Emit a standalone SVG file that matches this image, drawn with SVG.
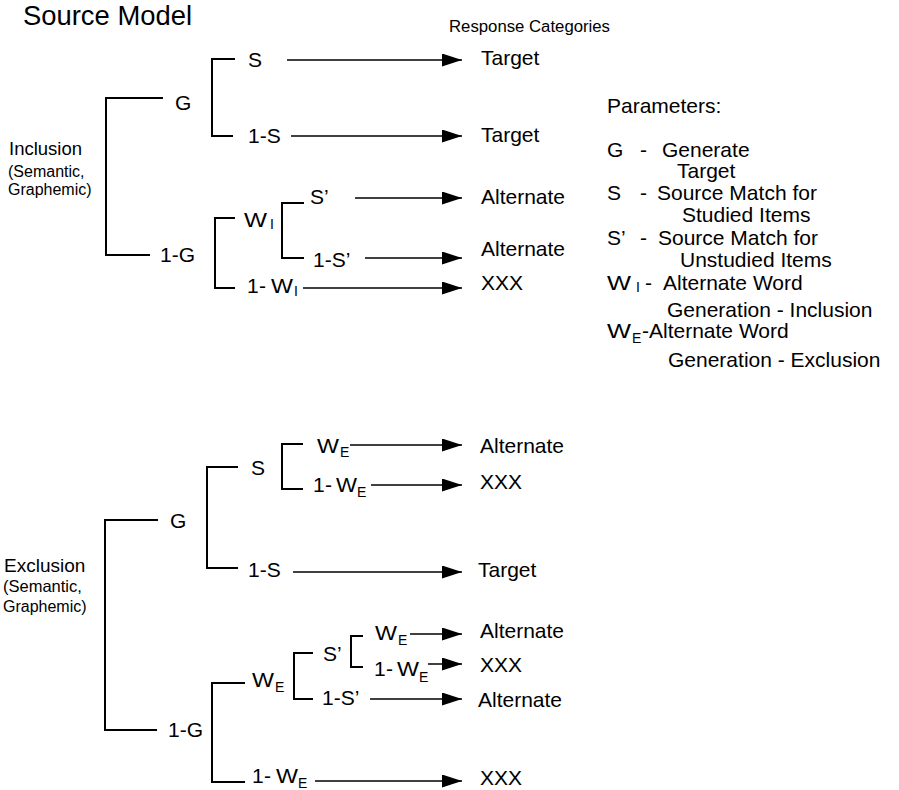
<svg xmlns="http://www.w3.org/2000/svg" width="899" height="790" viewBox="0 0 899 790">
<defs>
<style>
text{font-family:"Liberation Sans",Arial,Helvetica,sans-serif;fill:#000}
.t{font-size:21px}
.sub{font-size:14px}
.sm{font-size:16px}
.br{fill:none;stroke:#000;stroke-width:2}
.ar{fill:none;stroke:#000;stroke-width:1.6;marker-end:url(#ah)}
</style>
<marker id="ah" markerUnits="userSpaceOnUse" markerWidth="21" markerHeight="13" refX="20" refY="6.5" orient="auto">
<path d="M0,0 L20,6.5 L0,13 z" fill="#000"/>
</marker>
</defs>
<rect width="899" height="790" fill="#fff"/>

<text x="23" y="25" style="font-size:27px" textLength="169" lengthAdjust="spacingAndGlyphs">Source Model</text>
<text x="449" y="32" style="font-size:16px" textLength="161" lengthAdjust="spacingAndGlyphs">Response Categories</text>

<g id="connectors">
  <path class="br" d="M163,98 H106 V255 H150"/>
  <path class="br" d="M235,59 H212 V136 H233"/>
  <path class="br" d="M235,218 H215 V288 H235"/>
  <path class="br" d="M304,203 H282 V258 H304"/>
  <line class="ar" x1="287" y1="60" x2="462" y2="60"/>
  <line class="ar" x1="291" y1="136" x2="462" y2="136"/>
  <line class="ar" x1="355" y1="198" x2="462" y2="198"/>
  <line class="ar" x1="365" y1="258" x2="462" y2="258"/>
  <line class="ar" x1="303" y1="288" x2="462" y2="288"/>
  <path class="br" d="M158,520 H105 V730 H157"/>
  <path class="br" d="M238,467 H207 V568 H238"/>
  <path class="br" d="M303,444 H282 V489 H303"/>
  <path class="br" d="M245,683 H212 V782 H245"/>
  <path class="br" d="M313,653 H294 V699 H313"/>
  <path class="br" d="M363,636 H351 V667 H363"/>
  <line class="ar" x1="350" y1="445" x2="462" y2="445"/>
  <line class="ar" x1="371" y1="485" x2="462" y2="485"/>
  <line class="ar" x1="293" y1="572" x2="462" y2="572"/>
  <line class="ar" x1="410" y1="634" x2="462" y2="634"/>
  <line class="ar" x1="428" y1="664" x2="462" y2="664"/>
  <line class="ar" x1="370" y1="699" x2="462" y2="699"/>
  <line class="ar" x1="315" y1="781" x2="462" y2="781"/>
</g>

<g id="inclusion">
  <text x="9" y="155" style="font-size:18.5px">Inclusion</text>
  <text x="8" y="177" class="sm">(Semantic,</text>
  <text x="8" y="195" class="sm">Graphemic)</text>
</g>
<g id="inc-G"><text x="175" y="110" class="t">G</text></g>
<g id="inc-S"><text x="248" y="67" class="t">S</text></g>
<g id="inc-1S"><text x="248" y="143" class="t">1-S</text></g>
<g id="inc-1G"><text x="160" y="262" class="t">1-G</text></g>
<g id="inc-WI"><text x="244" y="227" class="t" textLength="23" lengthAdjust="spacingAndGlyphs">W</text><text x="270" y="229" class="sub">I</text></g>
<g id="inc-Sp"><text x="310" y="204" class="t">S’</text></g>
<g id="inc-1Sp"><text x="313" y="267" class="t">1-S’</text></g>
<g id="inc-1WI"><text y="293" class="t"><tspan x="247">1</tspan><tspan x="259">-</tspan></text><text x="271" y="293" class="t" textLength="22" lengthAdjust="spacingAndGlyphs">W</text><text x="294" y="296" class="sub">I</text></g>
<g id="inc-out1"><text x="481" y="65" class="t">Target</text></g>
<g id="inc-out2"><text x="481" y="142" class="t">Target</text></g>
<g id="inc-out3"><text x="481" y="204" class="t">Alternate</text></g>
<g id="inc-out4"><text x="481" y="256" class="t">Alternate</text></g>
<g id="inc-out5"><text x="481" y="290" class="t">XXX</text></g>

<g id="parameters">
  <text x="607" y="113" class="t">Parameters:</text>
  <text y="157" class="t"><tspan x="607">G</tspan><tspan x="640">-</tspan><tspan x="662">Generate</tspan></text>
  <text x="677" y="178" class="t">Target</text>
  <text y="200" class="t"><tspan x="607">S</tspan><tspan x="640">-</tspan><tspan x="657">Source Match for</tspan></text>
  <text x="682" y="222" class="t">Studied Items</text>
  <text y="245" class="t"><tspan x="607">S’</tspan><tspan x="640">-</tspan><tspan x="658">Source Match for</tspan></text>
  <text x="680" y="267" class="t">Unstudied Items</text>
  <text x="607" y="290" class="t" textLength="24" lengthAdjust="spacingAndGlyphs">W</text>
  <text x="636" y="292" class="sub">I</text>
  <text y="290" class="t"><tspan x="645">-</tspan><tspan x="663">Alternate Word</tspan></text>
  <text x="667" y="317" class="t">Generation - Inclusion</text>
  <text x="607" y="338" class="t" textLength="24" lengthAdjust="spacingAndGlyphs">W</text>
  <text x="632" y="343" class="sub">E</text>
  <text y="338" class="t"><tspan x="642">-</tspan><tspan x="649">Alternate Word</tspan></text>
  <text x="668" y="367" class="t">Generation - Exclusion</text>
</g>

<g id="exclusion">
  <text x="4" y="572" style="font-size:19px">Exclusion</text>
  <text x="3" y="592" style="font-size:16.5px">(Semantic,</text>
  <text x="3" y="612" class="sm">Graphemic)</text>
</g>
<g id="exc-G"><text x="170" y="528" class="t">G</text></g>
<g id="exc-S"><text x="251" y="475" class="t">S</text></g>
<g id="exc-WE1"><text x="317" y="453" class="t" textLength="22" lengthAdjust="spacingAndGlyphs">W</text><text x="340" y="457" class="sub">E</text></g>
<g id="exc-1WE1"><text y="492" class="t"><tspan x="313">1</tspan><tspan x="325">-</tspan></text><text x="336" y="492" class="t" textLength="21" lengthAdjust="spacingAndGlyphs">W</text><text x="357" y="497" class="sub">E</text></g>
<g id="exc-1S"><text x="248" y="577" class="t">1-S</text></g>
<g id="exc-1G"><text x="168" y="737" class="t">1-G</text></g>
<g id="exc-WE2"><text x="252" y="687" class="t" textLength="22" lengthAdjust="spacingAndGlyphs">W</text><text x="275" y="692" class="sub">E</text></g>
<g id="exc-Sp"><text x="323" y="661" class="t">S’</text></g>
<g id="exc-WE3"><text x="375" y="640" class="t" textLength="22" lengthAdjust="spacingAndGlyphs">W</text><text x="398" y="645" class="sub">E</text></g>
<g id="exc-1WE3"><text y="676" class="t"><tspan x="374">1</tspan><tspan x="386">-</tspan></text><text x="397" y="676" class="t" textLength="22" lengthAdjust="spacingAndGlyphs">W</text><text x="419" y="682" class="sub">E</text></g>
<g id="exc-1Sp"><text x="322" y="705" class="t">1-S’</text></g>
<g id="exc-1WE4"><text y="783" class="t"><tspan x="252">1</tspan><tspan x="264">-</tspan></text><text x="276" y="783" class="t" textLength="22" lengthAdjust="spacingAndGlyphs">W</text><text x="298" y="788" class="sub">E</text></g>
<g id="exc-out1"><text x="480" y="453" class="t">Alternate</text></g>
<g id="exc-out2"><text x="480" y="489" class="t">XXX</text></g>
<g id="exc-out3"><text x="478" y="577" class="t">Target</text></g>
<g id="exc-out4"><text x="480" y="638" class="t">Alternate</text></g>
<g id="exc-out5"><text x="480" y="672" class="t">XXX</text></g>
<g id="exc-out6"><text x="478" y="707" class="t">Alternate</text></g>
<g id="exc-out7"><text x="480" y="785" class="t">XXX</text></g>
</svg>
